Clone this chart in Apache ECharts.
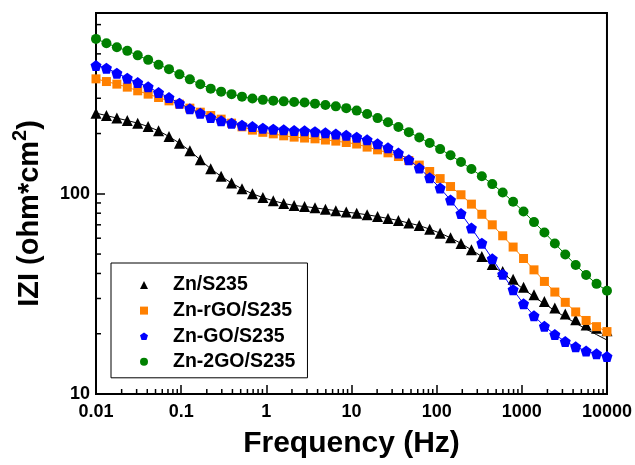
<!DOCTYPE html>
<html><head><meta charset="utf-8">
<script src="https://cdn.jsdelivr.net/npm/echarts@6/dist/echarts.min.js"></script>
<style>html,body{margin:0;padding:0;background:#fff}#c{width:635px;height:465px}</style>
</head><body><div id="c"></div>
<script>
const freq = [0.01, 0.01326, 0.01758, 0.0233, 0.03089, 0.04095, 0.05429, 0.07197, 0.09541, 0.1265,
  0.1677, 0.2223, 0.2947, 0.3907, 0.518, 0.6866, 0.9103, 1.207, 1.6, 2.121,
  2.812, 3.728, 4.942, 6.551, 8.685, 11.51, 15.26, 20.24, 26.83, 35.56,
  47.15, 62.51, 82.86, 109.9, 145.6, 193.1, 256, 339.3, 449.8, 596.4,
  790.6, 1048, 1390, 1842, 2442, 3237, 4292, 5690, 7543, 10000];

const znS235 = [252.8, 246, 238.8, 232.3, 225.4, 216.8, 206.3, 193.2, 179.1, 164,
  147.8, 133.3, 122.3, 113.1, 105.9, 100, 95.8, 92.3, 89.5, 87.4,
  86.4, 85.1, 83.7, 82.4, 81, 79.9, 78.6, 77, 75.3, 73.6,
  71.4, 69.4, 66.6, 63.6, 60.3, 56.5, 52.5, 48.6, 44.4, 40.9,
  37.4, 34.1, 31.3, 29, 26.9, 25.1, 23.5, 22.1, 21.3, 20.7];

const znS235Fit = [252.8, 246, 238.8, 232.3, 225.4, 216.8, 206.3, 193.2, 179.1, 164,
  147.8, 133.3, 122.3, 113.1, 105.9, 100, 95.8, 92.3, 89.5, 87.4,
  86.4, 85.1, 83.7, 82.4, 81, 79.9, 78.6, 77, 75.3, 73.6,
  71.4, 69.4, 66.6, 63.6, 60.3, 56.5, 52.5, 48.6, 44, 40.1,
  36.6, 33.4, 30.6, 28.2, 26.1, 24.2, 22.6, 21.1, 19.8, 18.6];

const znRGO = [375.1, 363.7, 353, 341, 326.9, 314.6, 302.6, 291.2, 280.4, 267.8,
  255.7, 246, 236, 225.4, 216, 208, 202.8, 199.3, 194.8, 191.9,
  189.9, 188.2, 185.6, 183.3, 180.4, 177.3, 171.1, 165.8, 160.2, 153.5,
  146.6, 139.1, 129.2, 119.1, 108.7, 98.9, 88.8, 79, 70, 61.7,
  54.2, 47.5, 41.7, 36.5, 32.3, 28.7, 25.7, 23.3, 21.7, 20.5];

const znGO = [437, 424.2, 400.5, 378.1, 359.5, 342.1, 320.4, 302.6, 283.7, 265.7,
  252.8, 240.4, 231.4, 225.4, 220.3, 216.8, 212.8, 210.4, 208.7, 207,
  206.3, 204.4, 201.6, 198.9, 196, 191.9, 186.1, 177.7, 169.7, 159.7,
  147.8, 134.4, 120.2, 106.8, 93, 79.7, 67.4, 56.7, 47.4, 39.6,
  33.2, 28.2, 24.6, 21.8, 19.8, 18.3, 17.2, 16.4, 15.9, 15.4];

const zn2GO = [594, 565.5, 540, 517.6, 491.5, 466.7, 441.6, 419.4, 395, 372.9,
  352.2, 335.2, 323.8, 314.6, 305.7, 299.1, 294.6, 291.9, 289.6, 287.3,
  285.6, 282, 277.5, 273.4, 267.8, 260.3, 250.3, 238.8, 227.5, 215.5,
  203.2, 191, 179.3, 167.2, 155.7, 144.1, 133, 122.3, 111.8, 101.5,
  91.2, 81.5, 72.2, 64.1, 56.5, 49.8, 44.1, 39.3, 35.5, 32.8];

const seriesNames = ['Zn/S235', 'Zn-rGO/S235', 'Zn-GO/S235', 'Zn-2GO/S235'];
const xTickLabels = ['0.01', '0.1', '1', '10', '100', '1000', '10000'];
const yTickLabels = ['10', '100'];
const xMinorTicks = [0.02,0.03,0.04,0.05,0.06,0.07,0.08,0.09, 0.2,0.3,0.4,0.5,0.6,0.7,0.8,0.9,
  2,3,4,5,6,7,8,9, 20,30,40,50,60,70,80,90, 200,300,400,500,600,700,800,900,
  2000,3000,4000,5000,6000,7000,8000,9000];
const yMinorTicks = [20,30,40,50,60,70,80,90,200,300,500,700];
const xMin = 0.01, xMax = 10000, yMin = 10, yMax = 800;

const FONT = 'Liberation Sans, Arial, sans-serif';
const pentagon = 'path://M0,-1 L0.951,-0.309 L0.588,0.809 L-0.588,0.809 L-0.951,-0.309 Z';
const colors = ['#000000', '#ff8000', '#0000ff', '#008000'];
const symbols = ['triangle', 'rect', pentagon, 'circle'];
const symSizes = [11, 9, 11, 10];
const dataSets = [znS235, znRGO, znGO, zn2GO];

function nearestLabel(v, labels) {
  let best = labels[0], bd = Infinity;
  labels.forEach(l => { const d = Math.abs(Math.log10(+l) - Math.log10(v)); if (d < bd) { bd = d; best = l; } });
  return bd < 0.01 ? best : '';
}

const series = [];
series.push({
  type: 'line', name: 'fit0', data: freq.map((f, i) => [f, znS235Fit[i]]),
  showSymbol: false, lineStyle: { color: '#000', width: 1 }, z: 1, silent: true
});
dataSets.forEach((arr, k) => {
  series.push({
    type: 'line', name: seriesNames[k],
    data: freq.map((f, i) => [f, arr[i]]),
    symbol: symbols[k], symbolSize: symSizes[k],
    itemStyle: { color: colors[k] },
    lineStyle: { color: colors[k], width: 1, opacity: k === 0 ? 0 : 1 },
    z: 2 + k
  });
});
series.push({
  type: 'custom', name: 'xminor', silent: true, clip: false, z: 10,
  data: xMinorTicks.map(v => [v, yMin]),
  renderItem: (params, api) => {
    const p = api.coord([api.value(0), yMin]);
    return { type: 'line', shape: { x1: p[0], y1: p[1], x2: p[0], y2: p[1] - 5 }, style: { stroke: '#000', lineWidth: 1.5 } };
  }
});
series.push({
  type: 'custom', name: 'yminor', silent: true, clip: false, z: 10,
  data: yMinorTicks.map(v => [xMin, v]),
  renderItem: (params, api) => {
    const p = api.coord([xMin, api.value(1)]);
    return { type: 'line', shape: { x1: p[0], y1: p[1], x2: p[0] + 5, y2: p[1] }, style: { stroke: '#000', lineWidth: 1.5 } };
  }
});

const chart = echarts.init(document.getElementById('c'), null, { renderer: 'canvas' });
chart.setOption({
  animation: false,
  backgroundColor: '#fff',
  grid: { left: 96, top: 13, right: 26, bottom: 71, show: true, borderColor: '#000', borderWidth: 2, backgroundColor: 'transparent' },
  xAxis: {
    type: 'log', logBase: 10, min: xMin, max: xMax,
    name: 'Frequency (Hz)', nameLocation: 'middle', nameGap: 35,
    nameTextStyle: { fontFamily: FONT, fontWeight: 'bold', fontSize: 30, color: '#000' },
    axisLine: { lineStyle: { color: '#000', width: 2 } },
    axisTick: { inside: true, length: 9, lineStyle: { color: '#000', width: 1.5 } },
    axisLabel: { margin: 9, fontFamily: FONT, fontWeight: 'bold', fontSize: 18, color: '#000',
      formatter: v => nearestLabel(v, xTickLabels) },
    splitLine: { show: false }
  },
  yAxis: {
    type: 'log', logBase: 10, min: yMin, max: yMax,
    name: '{m|IZI (ohm*cm}{s|2}{m|)}', nameLocation: 'middle', nameGap: 46,
    nameTextStyle: { padding: [0, 20, 0, 0], rich: {
      m: { fontFamily: FONT, fontWeight: 'bold', fontSize: 29, color: '#000', lineHeight: 40 },
      s: { fontFamily: FONT, fontWeight: 'bold', fontSize: 20, color: '#000', verticalAlign: 'top', lineHeight: 20 }
    } },
    axisLine: { lineStyle: { color: '#000', width: 2 } },
    axisTick: { inside: true, length: 9, lineStyle: { color: '#000', width: 1.5 } },
    axisLabel: { margin: 6, showMaxLabel: false, fontFamily: FONT, fontWeight: 'bold', fontSize: 18, color: '#000',
      formatter: v => nearestLabel(v, yTickLabels) },
    splitLine: { show: false }
  },
  legend: {
    orient: 'vertical', left: 111, top: 263,
    padding: [12, 12, 6, 29],
    itemGap: 5.6, itemWidth: 8, itemHeight: 8,
    borderColor: '#000', borderWidth: 1, backgroundColor: '#fff',
    textStyle: { fontFamily: FONT, fontWeight: 'bold', fontSize: 19.5, color: '#000', padding: [0, 0, 0, 20], lineHeight: 20 },
    data: seriesNames.map((n, k) => ({ name: n, icon: symbols[k] }))
  },
  series: series
});
</script></body></html>
